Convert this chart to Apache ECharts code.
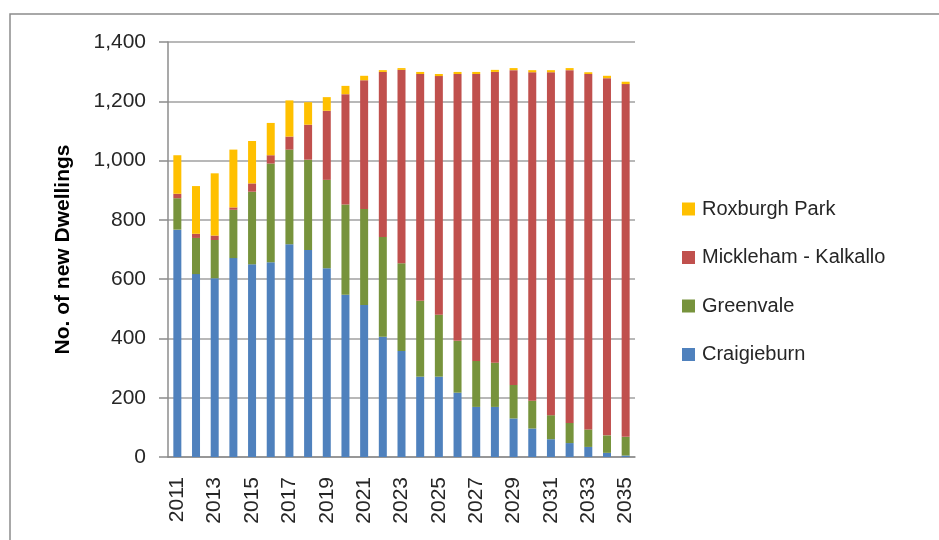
<!DOCTYPE html>
<html>
<head>
<meta charset="utf-8">
<script src="https://cdn.jsdelivr.net/npm/echarts@6/dist/echarts.min.js"></script>
<style>
html,body{margin:0;padding:0;background:#fff;}
#c{width:939px;height:540px;}
</style>
</head>
<body>
<div id="c"></div>
<script>
const years = ['2011','2012','2013','2014','2015','2016','2017','2018','2019','2020','2021','2022','2023','2024','2025','2026','2027','2028','2029','2030','2031','2032','2033','2034','2035'];
const craigieburn = [767,617,603,671,650,657,718,698,637,547,513,406,358,271,271,217,169,169,130,96,60,47,34,14,5];
const greenvale   = [106,122,129,163,245,333,319,305,298,305,324,336,296,256,209,175,155,149,113,94,81,68,59,59,63];
const mickleham   = [15,14,15,8,28,28,44,118,233,372,434,557,652,765,805,900,968,981,1062,1108,1157,1190,1199,1205,1190];
const roxburgh    = [130,161,210,195,143,109,122,76,46,28,15,6,6,7,7,7,7,7,7,7,7,7,6,8,8];
const yTicks = [0,200,400,600,800,1000,1200,1400];

const font = '"Liberation Sans", sans-serif';
const chart = echarts.init(document.getElementById('c'));
const mk = (name, data, color) => ({
  name, type:'bar', stack:'t', data, barWidth: 8,
  itemStyle:{color}, emphasis:{disabled:true}
});
chart.setOption({
  animation:false,
  graphic:[{type:'rect', shape:{x:10,y:14,width:960,height:560}, style:{fill:'none', stroke:'#8c8c8c', lineWidth:1.5}, z:-10}],
  grid:{left:168, right:304, top:42, bottom:83},
  legend:{
    orient:'vertical', left:677, top:194, itemGap:28.5,
    itemWidth:13, itemHeight:13, icon:'rect',
    data:['Roxburgh Park','Mickleham - Kalkallo','Greenvale','Craigieburn'],
    textStyle:{fontFamily:font, fontSize:20, color:'#262626', padding:[0,0,0,2]}
  },
  xAxis:{
    type:'category', data:years,
    axisLine:{lineStyle:{color:'#8c8c8c', width:1.5}},
    axisTick:{alignWithLabel:false, interval:0, length:8, lineStyle:{color:'#8c8c8c', width:1.5}},
    axisLabel:{interval:1, rotate:90, margin:20, fontFamily:font, fontSize:21, color:'#262626'}
  },
  yAxis:{
    type:'value', min:0, max:1400, interval:200,
    name:'No. of new Dwellings', nameLocation:'middle', nameGap:94, nameRotate:90,
    nameTextStyle:{fontFamily:font, fontSize:21, fontWeight:'bold', color:'#000'},
    axisLine:{show:true, lineStyle:{color:'#8c8c8c', width:1.5}},
    axisTick:{show:true, length:9, lineStyle:{color:'#8c8c8c', width:1.5}},
    splitLine:{lineStyle:{color:'#a0a0a0', width:1.5}},
    axisLabel:{margin:22, fontFamily:font, fontSize:21, color:'#262626',
      formatter: v => yTicks.includes(v) ? v.toLocaleString('en-US') : ''}
  },
  series:[
    mk('Craigieburn', craigieburn, '#4F81BD'),
    mk('Greenvale', greenvale, '#77933C'),
    mk('Mickleham - Kalkallo', mickleham, '#C0504D'),
    mk('Roxburgh Park', roxburgh, '#FFC000')
  ]
});
</script>
</body>
</html>
